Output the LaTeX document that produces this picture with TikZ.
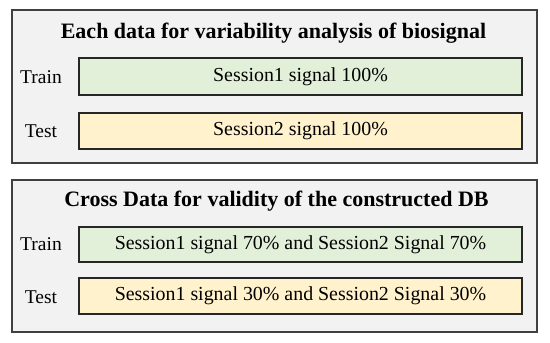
\documentclass[tikz,border=0pt]{standalone}
\usepackage{fontspec}
\setmainfont{Liberation Serif}
\definecolor{panelbg}{HTML}{F2F2F2}
\definecolor{panelbd}{HTML}{404040}
\definecolor{greenfill}{HTML}{E2F0D9}
\definecolor{yellowfill}{HTML}{FFF2CC}
\begin{document}
\begin{tikzpicture}[x=1pt,y=-1pt,
  panel/.style={draw=panelbd,fill=panelbg,line width=1.4pt},
  bar/.style={draw=black!85,line width=1.1pt},
  greenbar/.style={bar,fill=greenfill},
  yellowbar/.style={bar,fill=yellowfill},
  ttl/.style={font=\fontsize{22}{25}\selectfont\bfseries},
  lbl/.style={font=\fontsize{19.5}{22}\selectfont},
  txt/.style={font=\fontsize{19.9}{22}\selectfont}]
\useasboundingbox (0,0) rectangle (550,343);
\fill[white] (0,0) rectangle (550,343);
% panel 1
\draw[panel] (12,10) rectangle (537,163);
\node[ttl] (t1) at (273.5,33) {Each data for variability analysis of biosignal};
\draw[greenbar] (79,58) rectangle (522,95);
\node[txt] (g1) at (300.5,76.5) {Session1 signal 100\%};
\draw[yellowbar] (79,113) rectangle (522,149);
\node[txt] (y1) at (300.5,131) {Session2 signal 100\%};
\node[lbl] (tr1) at (41,77) {Train};
\node[lbl] (te1) at (41,131) {Test};
% panel 2
\draw[panel] (12,180) rectangle (537,332);
\node[ttl] (t2) at (276.5,201) {Cross Data for validity of the constructed DB};
\draw[greenbar] (79,227) rectangle (522,262);
\node[txt] (g2) at (300.5,244.5) {Session1 signal 70\% and Session2 Signal 70\%};
\draw[yellowbar] (79,278) rectangle (522,314);
\node[txt] (y2) at (300.5,296) {Session1 signal 30\% and Session2 Signal 30\%};
\node[lbl] (tr2) at (41,244) {Train};
\node[lbl] (te2) at (41,297) {Test};
\end{tikzpicture}
\end{document}
